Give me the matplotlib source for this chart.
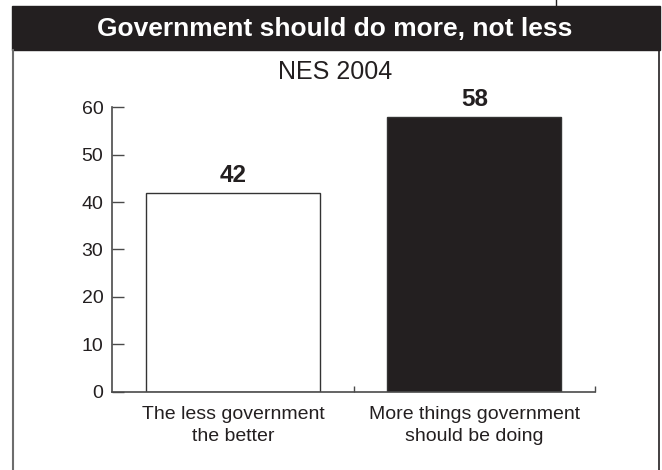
import matplotlib
matplotlib.use('Agg')
import matplotlib.pyplot as plt
from matplotlib.patches import Rectangle
from matplotlib.lines import Line2D

plt.rcParams['font.family'] = ['Liberation Sans', 'DejaVu Sans']

# data
title = "Government should do more, not less"
subtitle = "NES 2004"
categories = ["The less government\nthe better", "More things government\nshould be doing"]
values = [42, 58]
yticks = [0, 10, 20, 30, 40, 50, 60]

DARK = '#231f20'
bar_colors = ['white', DARK]

W, H = 662, 470
fig = plt.figure(figsize=(W / 100, H / 100), dpi=100)


def fx(x):
    return x / W


def fy(y):
    return 1 - y / H


# plot area
ax = fig.add_axes([fx(112.3), fy(391.7), (595.0 - 112.3) / W, (391.7 - 107.3) / H])
x = list(range(len(values)))
ax.bar(x, values, width=0.72, color=bar_colors, edgecolor='#333333', linewidth=1)

for xi, v in zip(x, values):
    ax.annotate(str(v), (xi, v), xytext=(0, 8), textcoords='offset points',
                ha='center', va='baseline', fontsize=17.5, fontweight='bold', color=DARK)

ax.set_xlim(-0.5, 1.5)
ax.set_ylim(0, 60)
ax.set_yticks(yticks)
ax.set_xticks(x)
ax.set_xticklabels(categories, fontsize=14, linespacing=1.4, color=DARK)
ax.set_xticks([0.5, 1.5], minor=True)

for s in ['top', 'right']:
    ax.spines[s].set_visible(False)
for s in ['left', 'bottom']:
    ax.spines[s].set_color('#4a4a4a')
    ax.spines[s].set_linewidth(1.2)

ax.tick_params(axis='y', direction='in', length=8.6, width=1, color='#4a4a4a',
               pad=6.5, labelsize=14, labelcolor=DARK)
ax.tick_params(axis='x', which='major', length=0, pad=10.5)
ax.tick_params(axis='x', which='minor', direction='in', length=4.3, width=1, color='#4a4a4a')

# title bar and frame
fig.add_artist(Rectangle((fx(12), fy(50)), (660 - 12) / W, 44 / H,
                         transform=fig.transFigure, color=DARK, zorder=0))
fig.text(fx(335), fy(36), title, ha='center', va='baseline', color='white',
         fontsize=19, fontweight='bold')
fig.text(fx(335), fy(79), subtitle, ha='center', va='baseline', color=DARK, fontsize=18)

fig.add_artist(Line2D([fx(12.7), fx(12.7)], [fy(50), fy(470)], color='#6d6d6d', lw=1.5))
fig.add_artist(Line2D([fx(659), fx(659)], [fy(50), fy(470)], color=DARK, lw=1.2))
fig.add_artist(Line2D([fx(555.7), fx(555.7)], [fy(0), fy(6)], color=DARK, lw=1))

fig.savefig('out.png', dpi=100)
plt.close(fig)
